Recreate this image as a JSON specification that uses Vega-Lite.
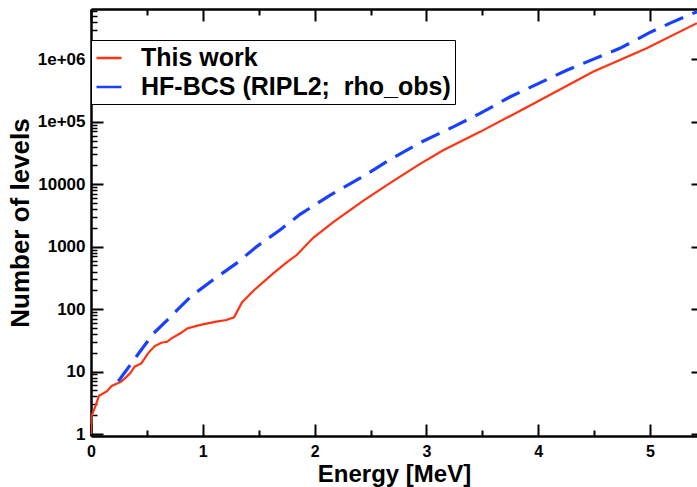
{
  "$schema": "https://vega.github.io/schema/vega-lite/v6.json",
  "width": 606,
  "height": 427,
  "autosize": {"type": "none"},
  "padding": {"left": 91, "top": 9, "right": 0, "bottom": 51},
  "background": "white",
  "config": {
    "font": "Liberation Sans",
    "view": {"stroke": null},
    "axis": {"grid": false, "domainColor": "black", "tickColor": "black", "labelColor": "black", "titleColor": "black", "labelFont": "Liberation Sans", "titleFont": "Liberation Sans", "labelFontWeight": "bold", "titleFontWeight": "bold"}
  },
  "data": {
    "values": [
      {"series": "This work", "E": 0, "N": 1},
      {"series": "This work", "E": 0.003, "N": 1.9},
      {"series": "This work", "E": 0.036, "N": 2.7},
      {"series": "This work", "E": 0.072, "N": 4.1},
      {"series": "This work", "E": 0.14, "N": 4.8},
      {"series": "This work", "E": 0.185, "N": 5.9},
      {"series": "This work", "E": 0.27, "N": 6.9},
      {"series": "This work", "E": 0.32, "N": 8.3},
      {"series": "This work", "E": 0.35, "N": 9.4},
      {"series": "This work", "E": 0.39, "N": 12},
      {"series": "This work", "E": 0.45, "N": 13.5},
      {"series": "This work", "E": 0.51, "N": 19.6},
      {"series": "This work", "E": 0.57, "N": 25.6},
      {"series": "This work", "E": 0.63, "N": 29},
      {"series": "This work", "E": 0.68, "N": 30},
      {"series": "This work", "E": 0.72, "N": 34},
      {"series": "This work", "E": 0.8, "N": 41},
      {"series": "This work", "E": 0.86, "N": 49},
      {"series": "This work", "E": 0.945, "N": 54},
      {"series": "This work", "E": 1.0, "N": 57},
      {"series": "This work", "E": 1.12, "N": 63},
      {"series": "This work", "E": 1.21, "N": 67},
      {"series": "This work", "E": 1.28, "N": 74},
      {"series": "This work", "E": 1.35, "N": 128},
      {"series": "This work", "E": 1.46, "N": 203},
      {"series": "This work", "E": 1.63, "N": 374},
      {"series": "This work", "E": 1.75, "N": 560},
      {"series": "This work", "E": 1.84, "N": 735},
      {"series": "This work", "E": 1.99, "N": 1400},
      {"series": "This work", "E": 2.17, "N": 2500},
      {"series": "This work", "E": 2.44, "N": 5500},
      {"series": "This work", "E": 2.67, "N": 10300},
      {"series": "This work", "E": 2.94, "N": 21000},
      {"series": "This work", "E": 3.15, "N": 35000},
      {"series": "This work", "E": 3.48, "N": 69000},
      {"series": "This work", "E": 3.99, "N": 209000},
      {"series": "This work", "E": 4.49, "N": 632000},
      {"series": "This work", "E": 4.97, "N": 1500000},
      {"series": "This work", "E": 5.42, "N": 3800000},
      {"series": "HF-BCS (RIPL2;\u00a0 rho_obs)", "E": 0.244, "N": 7},
      {"series": "HF-BCS (RIPL2;\u00a0 rho_obs)", "E": 0.35, "N": 12.7},
      {"series": "HF-BCS (RIPL2;\u00a0 rho_obs)", "E": 0.47, "N": 25},
      {"series": "HF-BCS (RIPL2;\u00a0 rho_obs)", "E": 0.56, "N": 41},
      {"series": "HF-BCS (RIPL2;\u00a0 rho_obs)", "E": 0.71, "N": 75},
      {"series": "HF-BCS (RIPL2;\u00a0 rho_obs)", "E": 0.89, "N": 158},
      {"series": "HF-BCS (RIPL2;\u00a0 rho_obs)", "E": 1.09, "N": 293},
      {"series": "HF-BCS (RIPL2;\u00a0 rho_obs)", "E": 1.3, "N": 540},
      {"series": "HF-BCS (RIPL2;\u00a0 rho_obs)", "E": 1.48, "N": 1000},
      {"series": "HF-BCS (RIPL2;\u00a0 rho_obs)", "E": 1.69, "N": 1850},
      {"series": "HF-BCS (RIPL2;\u00a0 rho_obs)", "E": 1.87, "N": 3300},
      {"series": "HF-BCS (RIPL2;\u00a0 rho_obs)", "E": 2.14, "N": 6700},
      {"series": "HF-BCS (RIPL2;\u00a0 rho_obs)", "E": 2.41, "N": 12600},
      {"series": "HF-BCS (RIPL2;\u00a0 rho_obs)", "E": 2.67, "N": 24500},
      {"series": "HF-BCS (RIPL2;\u00a0 rho_obs)", "E": 2.94, "N": 46000},
      {"series": "HF-BCS (RIPL2;\u00a0 rho_obs)", "E": 3.24, "N": 83000},
      {"series": "HF-BCS (RIPL2;\u00a0 rho_obs)", "E": 3.48, "N": 136000},
      {"series": "HF-BCS (RIPL2;\u00a0 rho_obs)", "E": 3.75, "N": 252000},
      {"series": "HF-BCS (RIPL2;\u00a0 rho_obs)", "E": 4.26, "N": 676000},
      {"series": "HF-BCS (RIPL2;\u00a0 rho_obs)", "E": 4.73, "N": 1500000},
      {"series": "HF-BCS (RIPL2;\u00a0 rho_obs)", "E": 5.0, "N": 2700000},
      {"series": "HF-BCS (RIPL2;\u00a0 rho_obs)", "E": 5.18, "N": 3800000},
      {"series": "HF-BCS (RIPL2;\u00a0 rho_obs)", "E": 5.42, "N": 5800000}
    ]
  },
  "layer": [
    {
      "transform": [{"filter": "datum.series == 'This work'"}],
      "mark": {"type": "line", "strokeWidth": 2.2, "clip": true},
      "encoding": {
        "x": {"field": "E", "type": "quantitative",
          "scale": {"domain": [0, 5.42], "nice": false, "zero": false},
          "axis": {"orient": "bottom", "values": [0, 1, 2, 3, 4, 5], "format": "d", "title": "Energy [MeV]",
            "domainWidth": 2.5, "tickWidth": 2, "tickSize": -12, "labelPadding": 19, "labelFontSize": 16,
            "titleFontSize": 24, "titlePadding": 3, "labelFlush": false}},
        "y": {"field": "N", "type": "quantitative",
          "scale": {"type": "log", "domain": [0.93, 6400000], "nice": false},
          "axis": {"orient": "left", "values": [1, 10, 100, 1000, 10000, 100000, 1000000],
            "labelExpr": "datum.value == 100000 ? '1e+05' : datum.value == 1000000 ? '1e+06' : format(datum.value, 'd')",
            "title": "Number of levels", "domainWidth": 2.5, "tickWidth": 2, "tickSize": -12, "labelPadding": 18,
            "labelFontSize": 17, "titleFontSize": 26, "titlePadding": 4}},
        "color": {"field": "series", "type": "nominal",
          "scale": {"domain": ["This work", "HF-BCS (RIPL2;\u00a0 rho_obs)"], "range": ["#ff3311", "#1a40ff"]},
          "legend": {"title": null, "orient": "none", "legendX": 0, "legendY": 31, "symbolType": "stroke",
            "symbolSize": 625, "symbolStrokeWidth": 2.5, "labelFontSize": 25, "labelFontWeight": "bold",
            "labelFont": "Liberation Sans", "labelColor": "black", "labelOffset": 18, "rowPadding": 2,
            "padding": 4, "strokeColor": "black", "fillColor": "white", "zindex": 3, "labelLimit": 600}}
      }
    },
    {
      "transform": [{"filter": "datum.series != 'This work'"}],
      "mark": {"type": "line", "strokeWidth": 3.2, "strokeDash": [20, 10], "clip": true},
      "encoding": {
        "x": {"field": "E", "type": "quantitative",
          "axis": {"orient": "top", "values": [0, 1, 2, 3, 4, 5], "labels": false, "title": null,
            "domainWidth": 2.5, "tickWidth": 2, "tickSize": -12}},
        "y": {"field": "N", "type": "quantitative",
          "axis": {"orient": "right", "values": [1, 10, 100, 1000, 10000, 100000, 1000000], "labels": false,
            "title": null, "domain": false, "tickWidth": 2, "tickSize": -6}},
        "color": {"field": "series", "type": "nominal"}
      }
    },
    {
      "mark": {"type": "line", "opacity": 0},
      "encoding": {
        "x": {"field": "E", "type": "quantitative",
          "axis": {"orient": "bottom", "values": [0.5, 1.5, 2.5, 3.5, 4.5], "labels": false, "title": null,
            "domain": false, "tickWidth": 2, "tickSize": -6}},
        "y": {"field": "N", "type": "quantitative",
          "axis": {"orient": "left", "labels": false, "title": null, "domain": false, "tickWidth": 1.5, "tickSize": -6,
            "values": [2,3,4,5,6,7,8,9,20,30,40,50,60,70,80,90,200,300,400,500,600,700,800,900,2000,3000,4000,5000,6000,7000,8000,9000,20000,30000,40000,50000,60000,70000,80000,90000,200000,300000,400000,500000,600000,700000,800000,900000,2000000,3000000,4000000,5000000,6000000]}},
        "detail": {"field": "series", "type": "nominal"}
      }
    },
    {
      "mark": {"type": "line", "opacity": 0},
      "encoding": {
        "x": {"field": "E", "type": "quantitative",
          "axis": {"orient": "top", "values": [0.5, 1.5, 2.5, 3.5, 4.5], "labels": false, "title": null,
            "domain": false, "tickWidth": 2, "tickSize": -6}},
        "y": {"field": "N", "type": "quantitative", "axis": null},
        "detail": {"field": "series", "type": "nominal"}
      }
    }
  ],
  "resolve": {"axis": {"x": "independent", "y": "independent"}}
}
